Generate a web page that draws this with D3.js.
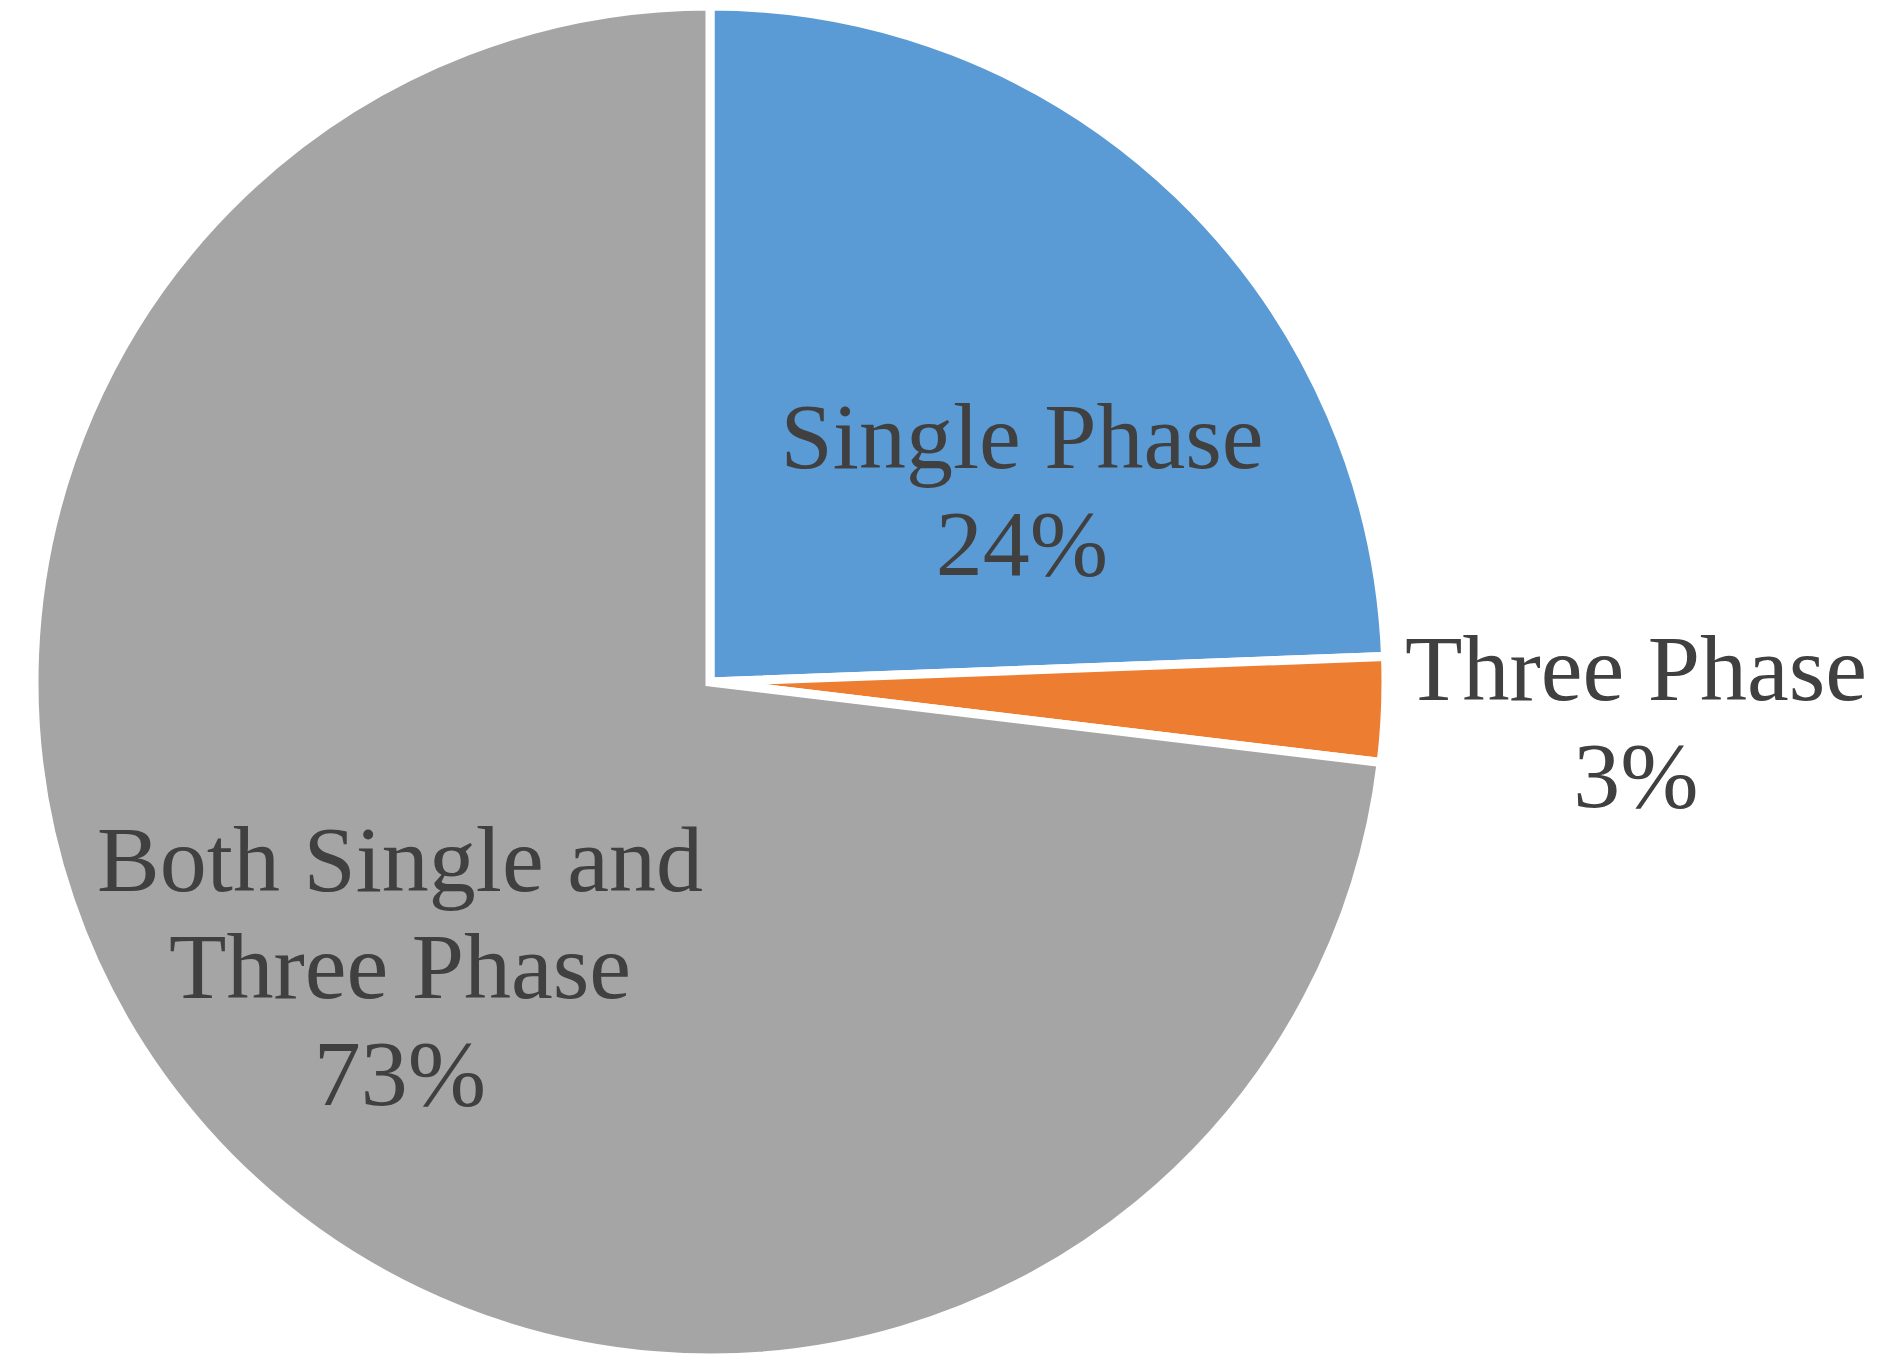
<!DOCTYPE html>
<html>
<head>
<meta charset="utf-8">
<script src="https://cdn.jsdelivr.net/npm/d3@7"></script>
<style>
  html, body { margin: 0; padding: 0; background: #fff; }
  svg { display: block; }
  .label { font-family: "Liberation Serif", "Times New Roman", serif; font-size: 94px; fill: #404040; }
</style>
</head>
<body>
<svg width="1896" height="1372"></svg>
<script>
'use strict';

const categories = ['Single Phase', 'Three Phase', 'Both Single and Three Phase'];
const shares = [24.4, 2.5, 73.1];
const colors = ['#5B9BD5', '#ED7D31', '#A5A5A5'];
// label text lines, broken where the original breaks them
const labelLines = [['Single Phase'], ['Three Phase'], ['Both Single and', 'Three Phase']];

const svg = d3.select('svg');
const cx = 710, cy = 682;
const radius = 676;
const lineHeight = 107;

// middle baseline of each label block, relative to the pie centre
const labelOffset = [[312, -161], [926, 71], [-310, 316]];

const data = categories.map((c, i) => ({ name: c, value: shares[i], lines: labelLines[i] }));

const pie = d3.pie().sort(null).value(d => d.value);
const arc = d3.arc().innerRadius(0).outerRadius(radius);

const g = svg.append('g').attr('transform', `translate(${cx},${cy})`);

g.selectAll('path.slice').data(pie(data))
  .enter().append('path')
    .attr('class', 'slice')
    .attr('d', arc)
    .attr('fill', (d, i) => colors[i])
    .attr('stroke', '#fff')
    .attr('stroke-width', 9)
    .attr('stroke-linejoin', 'miter');

const pct = v => Math.round(v) + '%';

const labels = g.selectAll('text.label').data(pie(data))
  .enter().append('text')
    .attr('class', 'label')
    .attr('text-anchor', 'middle')
    .attr('transform', (d, i) => `translate(${labelOffset[i][0]},${labelOffset[i][1]})`);

labels.each(function (d) {
  const lines = d.data.lines.concat([pct(d.data.value)]);
  const top = -((lines.length - 1) * lineHeight) / 2;
  const t = d3.select(this);
  lines.forEach((line, k) => {
    t.append('tspan')
      .attr('x', 0)
      .attr('y', top + k * lineHeight)
      .text(line);
  });
});
</script>
</body>
</html>
